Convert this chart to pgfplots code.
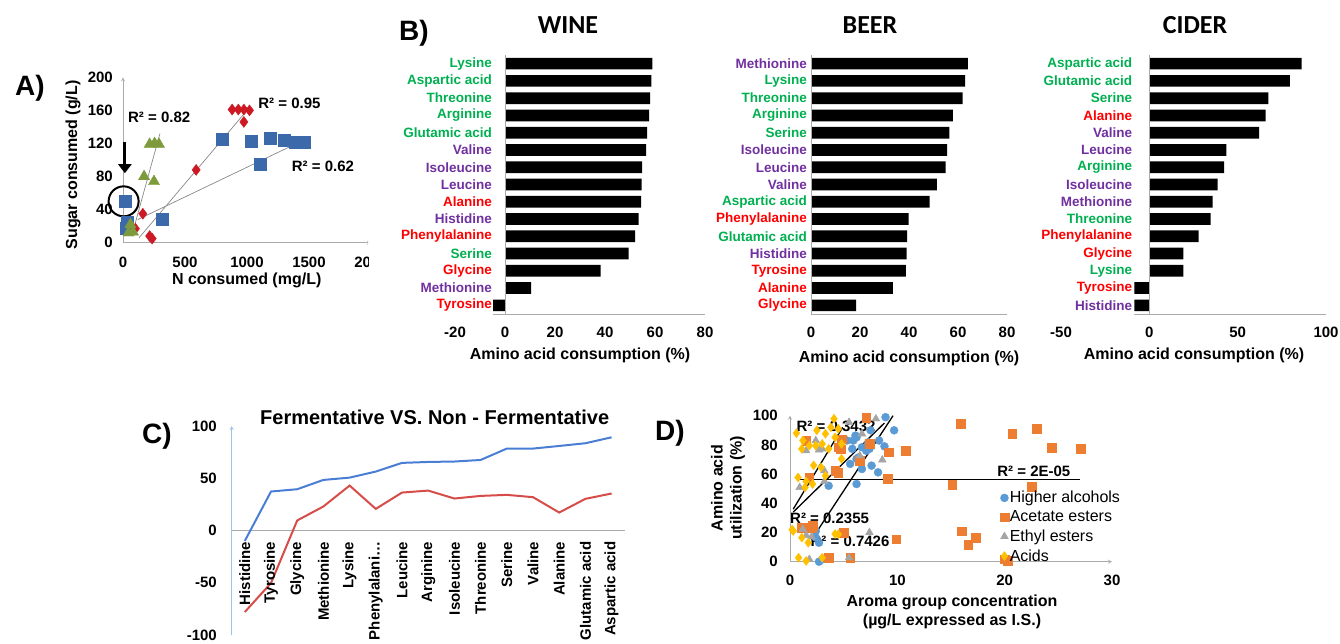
\documentclass[border=0pt]{standalone}
\usepackage{fontspec}
\setmainfont{Liberation Sans}
\newfontfamily\calfont{Carlito}
\usepackage{pgfplots}
\pgfplotsset{compat=1.18}
\usetikzlibrary{arrows.meta}
\definecolor{aBlue}{RGB}{60,105,170}
\definecolor{aRed}{RGB}{205,25,35}
\definecolor{aGreen}{RGB}{125,155,60}
\definecolor{cg}{RGB}{0,176,80}
\definecolor{cp}{RGB}{112,48,160}
\definecolor{cr}{RGB}{255,0,0}
\definecolor{axgray}{RGB}{170,170,170}
\definecolor{cBlue}{RGB}{74,126,212}
\definecolor{cRed}{RGB}{214,76,72}
\definecolor{cAxis}{RGB}{157,195,230}
\definecolor{dBlue}{RGB}{91,155,213}
\definecolor{dOrange}{RGB}{237,125,49}
\definecolor{dGray}{RGB}{165,165,165}
\definecolor{dYellow}{RGB}{255,192,0}
\newcommand{\tk}{\fontsize{15}{18}\selectfont\bfseries}
\newcommand{\lab}{\fontsize{16}{19}\selectfont\bfseries}
\newcommand{\cat}{\fontsize{13.5}{16}\selectfont\bfseries}
\newcommand{\rsq}{\fontsize{15}{18}\selectfont\bfseries}
\newcommand{\leg}{\fontsize{16}{19}\selectfont}
\pgfplotsset{
  base/.style={scale only axis, anchor=south west, major tick length=0pt,
    tick style={draw=none}, ticklabel style={font=\tk},
    /pgf/number format/assume math mode=true, /pgf/number format/1000 sep={},
    axis line style={-, draw=axgray, line width=0.8pt}},
}
\tikzset{lbl/.style={anchor=east, font=\cat, inner sep=0pt, xshift=-#1},
  clab/.style={yshift=-11pt, rotate=90, anchor=east, font=\tk, inner sep=0pt}}
\begin{document}
\begin{tikzpicture}[x=1pt,y=1pt]
\useasboundingbox (0pt,0pt) rectangle (1340pt,643pt);
% ---------------- Panel A ----------------
\begin{scope}
\clip (0pt,300pt) rectangle (368pt,643pt);
\begin{axis}[base, at={(123pt,400.3pt)}, width=248pt, height=165.4pt,
  xmin=0, xmax=2000, ymin=0, ymax=200, clip=false,
  axis x line=bottom, axis y line=left,
  xtick={0,500,1000,1500,2000}, ytick={0,40,80,120,160,200},
  yticklabel style={inner sep=0pt, xshift=-10pt},
  xticklabel style={inner sep=0pt, yshift=-14pt}]
\addplot[axgray!80!black, line width=0.7pt] coordinates {(70,8) (298,132)};
\addplot[axgray!80!black, line width=0.7pt] coordinates {(130,6) (1000,160)};
\addplot[axgray!80!black, line width=0.7pt] coordinates {(120,28) (1470,125)};
\addplot[only marks, mark=square*, mark size=6pt, color=aBlue] coordinates {
 (15,50) (35,25) (25,18) (320,28) (800,125) (1030,123) (1190,126) (1300,124) (1390,122) (1460,122) (1110,95)};
\addplot[only marks, mark=diamond*, mark size=5.5pt, color=aRed] coordinates {
 (880,161) (930,161) (975,161) (1020,160) (975,146) (590,88) (160,35) (100,17) (215,8) (235,5)};
\addplot[only marks, mark=triangle*, mark size=6.5pt, color=aGreen] coordinates {
 (60,22) (45,12) (80,13) (170,80) (250,74) (215,119) (255,120) (290,119)};
\node[anchor=west, font=\rsq, inner sep=0pt] at (axis cs:40,152) {R² = 0.82};
\node[anchor=west, font=\rsq, inner sep=0pt] at (axis cs:1090,169) {R² = 0.95};
\node[anchor=west, font=\rsq, inner sep=0pt] at (axis cs:1360,92) {R² = 0.62};
\draw[line width=3pt, -{Triangle[length=9pt,width=13pt]}] (axis cs:15,122) -- (axis cs:15,84);
\draw[line width=2pt] (axis cs:5,50) circle [radius=15pt];
\end{axis}
\end{scope}
\node[font=\lab] at (246.7pt,363pt) {N consumed (mg/L)};
\node[font=\lab, rotate=90] at (73pt,478pt) {Sugar consumed (g/L)};
\node[font=\fontsize{28}{30}\selectfont\bfseries] at (30pt,555pt) {A)};
% ---------------- Panel B: WINE ----------------
\begin{axis}[base, at={(455pt,329pt)}, width=250pt, height=259pt,
  xmin=-20, xmax=80, ymin=0.5, ymax=15.5, clip=false,
  axis x line=bottom, axis y line=none, x axis line style={draw=none},
  xtick={-20,0,20,40,60,80}, ytick=\empty,
  xticklabel style={inner sep=0pt, yshift=-13pt}]
\addplot[xbar, bar width=11.7pt, fill=black, draw=none] coordinates {
 (58.9,15) (58.5,14) (58.0,13) (57.6,12) (56.8,11) (56.4,10) (54.8,9) (54.6,8)
 (54.4,7) (53.4,6) (52.0,5) (49.4,4) (38.2,3) (10.4,2) (-4.8,1)};
\draw[axgray, line width=0.8pt] (axis cs:0,0.5) -- (axis cs:0,15.5);
\draw[axgray, line width=0.8pt] (axis cs:-4.8,0.5) -- (axis cs:80,0.5);
\node[lbl=13pt, text=cg] at (axis cs:0,15) {Lysine};
\node[lbl=13pt, text=cg] at (axis cs:0,14) {Aspartic acid};
\node[lbl=13pt, text=cg] at (axis cs:0,13) {Threonine};
\node[lbl=13pt, text=cg] at (axis cs:0,12) {Arginine};
\node[lbl=13pt, text=cg] at (axis cs:0,11) {Glutamic acid};
\node[lbl=13pt, text=cp] at (axis cs:0,10) {Valine};
\node[lbl=13pt, text=cp] at (axis cs:0,9) {Isoleucine};
\node[lbl=13pt, text=cp] at (axis cs:0,8) {Leucine};
\node[lbl=13pt, text=cr] at (axis cs:0,7) {Alanine};
\node[lbl=13pt, text=cp] at (axis cs:0,6) {Histidine};
\node[lbl=13pt, text=cr] at (axis cs:0,5) {Phenylalanine};
\node[lbl=13pt, text=cg] at (axis cs:0,4) {Serine};
\node[lbl=13pt, text=cr] at (axis cs:0,3) {Glycine};
\node[lbl=13pt, text=cp] at (axis cs:0,2) {Methionine};
\node[lbl=13pt, text=cr] at (axis cs:0,1) {Tyrosine};
\end{axis}
% ---------------- Panel B: BEER ----------------
\begin{axis}[base, at={(811pt,329pt)}, width=196pt, height=259pt,
  xmin=0, xmax=80, ymin=0.5, ymax=15.5, clip=false,
  axis x line=bottom, axis y line=none, x axis line style={draw=none},
  xtick={0,20,40,60,80}, ytick=\empty,
  xticklabel style={inner sep=0pt, yshift=-13pt}]
\addplot[xbar, bar width=11.7pt, fill=black, draw=none] coordinates {
 (64.0,15) (62.9,14) (61.9,13) (57.9,12) (56.5,11) (55.6,10) (54.9,9) (51.4,8)
 (48.4,7) (39.8,6) (39.2,5) (39.0,4) (38.7,3) (33.4,2) (18.4,1)};
\draw[axgray, line width=0.8pt] (axis cs:0,0.5) -- (axis cs:0,15.5);
\draw[axgray, line width=0.8pt] (axis cs:0,0.5) -- (axis cs:80,0.5);
\node[lbl=4pt, text=cp] at (axis cs:0,15) {Methionine};
\node[lbl=4pt, text=cg] at (axis cs:0,14) {Lysine};
\node[lbl=4pt, text=cg] at (axis cs:0,13) {Threonine};
\node[lbl=4pt, text=cg] at (axis cs:0,12) {Arginine};
\node[lbl=4pt, text=cg] at (axis cs:0,11) {Serine};
\node[lbl=4pt, text=cp] at (axis cs:0,10) {Isoleucine};
\node[lbl=4pt, text=cp] at (axis cs:0,9) {Leucine};
\node[lbl=4pt, text=cp] at (axis cs:0,8) {Valine};
\node[lbl=4pt, text=cg] at (axis cs:0,7) {Aspartic acid};
\node[lbl=4pt, text=cr] at (axis cs:0,6) {Phenylalanine};
\node[lbl=4pt, text=cg] at (axis cs:0,5) {Glutamic acid};
\node[lbl=4pt, text=cp] at (axis cs:0,4) {Histidine};
\node[lbl=4pt, text=cr] at (axis cs:0,3) {Tyrosine};
\node[lbl=4pt, text=cr] at (axis cs:0,2) {Alanine};
\node[lbl=4pt, text=cr] at (axis cs:0,1) {Glycine};
\end{axis}
% ---------------- Panel B: CIDER ----------------
\begin{axis}[base, at={(1061pt,329pt)}, width=265pt, height=259pt,
  xmin=-50, xmax=100, ymin=0.5, ymax=15.5, clip=false,
  axis x line=bottom, axis y line=none, x axis line style={draw=none},
  xtick={-50,0,50,100}, ytick=\empty,
  xticklabel style={inner sep=0pt, yshift=-13pt}]
\addplot[xbar, bar width=11.7pt, fill=black, draw=none] coordinates {
 (86.2,15) (79.6,14) (67.4,13) (65.8,12) (62.1,11) (43.6,10) (42.3,9) (38.7,8)
 (35.8,7) (34.7,6) (27.9,5) (19.2,4) (19.2,3) (-8.5,2) (-8.5,1)};
\draw[axgray, line width=0.8pt] (axis cs:0,0.5) -- (axis cs:0,15.5);
\draw[axgray, line width=0.8pt] (axis cs:-8.5,0.5) -- (axis cs:100,0.5);
\node[lbl=17pt, text=cg] at (axis cs:0,15) {Aspartic acid};
\node[lbl=17pt, text=cg] at (axis cs:0,14) {Glutamic acid};
\node[lbl=17pt, text=cg] at (axis cs:0,13) {Serine};
\node[lbl=17pt, text=cr] at (axis cs:0,12) {Alanine};
\node[lbl=17pt, text=cp] at (axis cs:0,11) {Valine};
\node[lbl=17pt, text=cp] at (axis cs:0,10) {Leucine};
\node[lbl=17pt, text=cg] at (axis cs:0,9) {Arginine};
\node[lbl=17pt, text=cp] at (axis cs:0,8) {Isoleucine};
\node[lbl=17pt, text=cp] at (axis cs:0,7) {Methionine};
\node[lbl=17pt, text=cg] at (axis cs:0,6) {Threonine};
\node[lbl=17pt, text=cr] at (axis cs:0,5) {Phenylalanine};
\node[lbl=17pt, text=cr] at (axis cs:0,4) {Glycine};
\node[lbl=17pt, text=cg] at (axis cs:0,3) {Lysine};
\node[lbl=17pt, text=cr] at (axis cs:0,2) {Tyrosine};
\node[lbl=17pt, text=cp] at (axis cs:0,1) {Histidine};
\end{axis}
\node[font=\calfont\fontsize{26}{28}\selectfont\bfseries] at (568pt,618pt) {WINE};
\node[font=\calfont\fontsize{26}{28}\selectfont\bfseries] at (870pt,618pt) {BEER};
\node[font=\calfont\fontsize{26}{28}\selectfont\bfseries] at (1195pt,618pt) {CIDER};
\node[font=\lab] at (580pt,288pt) {Amino acid consumption (\%)};
\node[font=\lab] at (909pt,285pt) {Amino acid consumption (\%)};
\node[font=\lab] at (1194pt,288pt) {Amino acid consumption (\%)};
\node[font=\fontsize{28}{30}\selectfont\bfseries] at (414pt,610pt) {B)};
% ---------------- Panel C ----------------
\begin{axis}[base, at={(231.7pt,8pt)}, width=393pt, height=209pt,
  xmin=-0.5, xmax=14.5, ymin=-100, ymax=100, clip=false,
  axis x line=none, axis y line=left, y axis line style={draw=cAxis},
  xtick=\empty, ytick={-100,-50,0,50,100},
  yticklabel style={inner sep=0pt, xshift=-14.7pt}]
\draw[axgray, line width=0.8pt] (axis cs:-0.5,0) -- (axis cs:14.5,0);
\addplot[cBlue, line width=2pt] coordinates {
 (0,-10) (1,37.3) (2,39.5) (3,48.4) (4,50.6) (5,56.4) (6,64.7) (7,65.6)
 (8,66) (9,67.5) (10,78.4) (11,78.4) (12,80.9) (13,83.5) (14,89.2)};
\addplot[cRed, line width=2pt] coordinates {
 (0,-78) (1,-50.3) (2,9.6) (3,23) (4,43) (5,20.7) (6,36.3) (7,38.2)
 (8,30.6) (9,33.1) (10,34.1) (11,31.9) (12,17.2) (13,30.3) (14,35.4)};
\node[clab] at (axis cs:0,0) {Histidine};
\node[clab] at (axis cs:1,0) {Tyrosine};
\node[clab] at (axis cs:2,0) {Glycine};
\node[clab] at (axis cs:3,0) {Methionine};
\node[clab] at (axis cs:4,0) {Lysine};
\node[clab] at (axis cs:5,0) {Phenylalani\ldots};
\node[clab] at (axis cs:6,0) {Leucine};
\node[clab] at (axis cs:7,0) {Arginine};
\node[clab] at (axis cs:8,0) {Isoleucine};
\node[clab] at (axis cs:9,0) {Threonine};
\node[clab] at (axis cs:10,0) {Serine};
\node[clab] at (axis cs:11,0) {Valine};
\node[clab] at (axis cs:12,0) {Alanine};
\node[clab] at (axis cs:13,0) {Glutamic acid};
\node[clab] at (axis cs:14,0) {Aspartic acid};
\end{axis}
\node[font=\fontsize{20}{24}\selectfont\bfseries] at (434.7pt,226pt) {Fermentative VS. Non - Fermentative};
\node[font=\fontsize{28}{30}\selectfont\bfseries] at (157pt,207pt) {C)};
% ---------------- Panel D ----------------
\begin{axis}[base, at={(790pt,81.3pt)}, width=322pt, height=146pt,
  xmin=0, xmax=30, ymin=0, ymax=100, clip=false,
  axis x line=bottom, axis y line=left,
  xtick={0,10,20,30}, ytick={0,20,40,60,80,100},
  yticklabel style={inner sep=0pt, xshift=-12pt},
  xticklabel style={inner sep=0pt, yshift=-13pt},
  legend style={at={(0.652,0.49)}, anchor=north west, draw=none, fill=none,
    font=\leg, inner sep=0pt, row sep=4.5pt, nodes={inner sep=1pt}},
  legend cell align=left,
  legend image code/.code={\draw[mark repeat=2,mark phase=2,#1] plot coordinates {(0pt,0pt) (4pt,0pt) (9pt,0pt)};}]
\addplot[only marks, mark=*, mark size=4pt, color=dBlue] coordinates {
 (8.9,99) (9.7,90) (8.3,83) (6.1,86.4) (5.8,77.3) (6.7,78.4) (7.6,65.8) (8.2,61.2)
 (7.3,81.8) (5.6,67) (3.6,52) (6.2,53.2) (3,1.6) (5.9,83) (7.4,77.3) (6.4,71.5)
 (6.7,63.5) (2.4,16.5) (2.7,13) (1.7,22.3) (2.4,21) (2.7,0) (5.3,83) (7.1,76)
 (6.2,85.2) (6.2,70.4) (7.5,90) (8.8,79)};
\addlegendentry{Higher alcohols}
\addplot[only marks, mark=square*, mark size=4.3pt, color=dOrange] coordinates {
 (7.1,98.6) (15.9,94.4) (20.7,87.5) (23.0,91) (24.4,78) (27.1,77.2) (10.8,76) (9.2,75)
 (7.4,81) (6.5,69) (4.7,77) (4.5,61) (9.1,57) (15.1,52.7) (22.5,51.3) (1.5,83)
 (1.8,57.7) (1.1,23.4) (2,23.4) (5,20) (9.9,15.4) (16.0,21) (16.6,11.5) (17.3,16.5)
 (20.0,1.6) (20.3,0.5) (3.6,2.7) (5.6,2.7) (4.5,78.4) (4.2,62.3) (2.1,24.5) (4.8,84)};
\addlegendentry{Acetate esters}
\addplot[only marks, mark=triangle*, mark size=4.5pt, color=dGray] coordinates {
 (8,97.9) (5.5,95.5) (6.7,87.6) (8.6,69.7) (2.4,83) (1.5,76) (2.7,76.6) (3.2,62.3)
 (0.9,50.9) (7.4,20) (1.2,22.3) (1.8,1.6) (5.5,2.7) (2,17) (3,77.3) (6.5,72.6)
 (1.5,18) (3.2,55)};
\addlegendentry{Ethyl esters}
\addplot[only marks, mark=diamond*, mark size=4.5pt, color=dYellow] coordinates {
 (4.1,97.9) (4.5,91) (3.3,87.6) (3,80.7) (2.4,79.5) (1.1,77.3) (1.8,79.5) (4.2,85.2)
 (4.8,80.7) (3.6,77.3) (4.8,70.4) (2.9,64.6) (0.75,57.7) (1.4,50.9) (2.1,53.2) (3.3,58.9)
 (0.3,21) (1.1,16.5) (1.7,13) (4.5,18.8) (0.8,2.7) (1.5,0.5) (3,2.7) (0.6,88)
 (1.2,83) (2.5,90) (3.8,92) (4.2,19) (1.5,55) (2.2,66) (0.2,22)};
\addlegendentry{Acids}
\addplot[black, line width=1.3pt, forget plot] coordinates {(0.3,36) (4.9,92)};
\addplot[black, line width=1.3pt, forget plot] coordinates {(0.3,34) (8.8,95)};
\addplot[black, line width=1.3pt, forget plot] coordinates {(2.0,15) (9.6,100)};
\addplot[black, line width=1.3pt, forget plot] coordinates {(0.9,56.5) (27.0,56.5)};
\node[anchor=west, font=\rsq, inner sep=0pt] at (axis cs:0.6,93) {R² = 0.3432};
\node[anchor=west, font=\rsq, inner sep=0pt] at (axis cs:0,30) {R² = 0.2355};
\node[anchor=west, font=\rsq, inner sep=0pt] at (axis cs:1.9,14.2) {R² = 0.7426};
\node[anchor=west, font=\rsq, inner sep=0pt] at (axis cs:19.3,61.6) {R² = 2E-05};
\end{axis}
\node[font=\lab, rotate=90, align=center] at (728pt,155pt) {Amino acid\\utilization (\%)};
\node[font=\lab, align=center] at (952pt,30.7pt) {Aroma group concentration\\(µg/L expressed as I.S.)};
\node[font=\fontsize{28}{30}\selectfont\bfseries] at (670pt,210pt) {D)};
\end{tikzpicture}
\end{document}
